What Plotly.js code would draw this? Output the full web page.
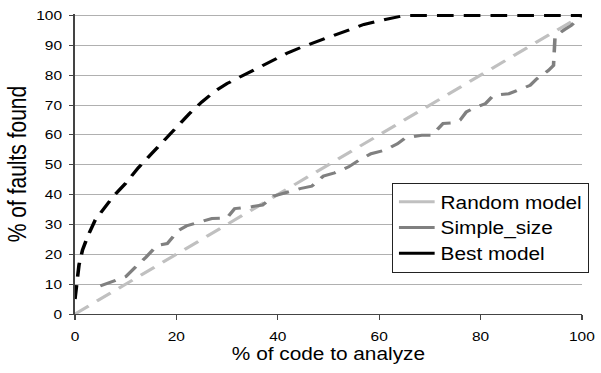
<!DOCTYPE html>
<html>
<head>
<meta charset="utf-8">
<script src="https://cdn.plot.ly/plotly-3.0.1.min.js"></script>
<style>
  html, body { margin: 0; padding: 0; background: #fff; overflow: hidden; }
  #chart { width: 505px; height: 373px; transform: scaleX(1.19); transform-origin: 0 0; }
</style>
</head>
<body>
<div id="chart"></div>
<script>
// Series names
const seriesNames = ["Random model", "Simple_size", "Best model"];

// Random model
const randomX = [0, 100];
const randomY = [0, 100];

// Simple_size
const simpleX = [5, 8, 10, 12, 14, 16.2, 18.2, 20.4, 22, 25, 27, 30, 31.5, 35, 37, 39.2, 41.5, 44.4, 46.7, 49, 51.2, 54, 56, 58.4, 61, 63.6, 65.2, 68.4, 70.4, 72.6, 74.6, 76, 77.2, 78.5, 81, 82.5, 85.6, 87.4, 89.8, 91.1, 93.4, 94.4, 94.7, 96.6, 97.9, 100];
const simpleY = [9.4, 11.4, 12.5, 15.8, 19, 23, 23.6, 28, 29.5, 31, 32, 32.2, 35.3, 36, 36.5, 39.5, 40.6, 42, 42.8, 46.2, 47.3, 49.3, 51.5, 53.7, 54.8, 57, 59, 59.9, 59.9, 63.8, 64, 65, 67.7, 68.8, 70.5, 73.2, 73.8, 74.9, 76.6, 78.8, 81.6, 83.3, 93, 95.3, 96.7, 100];

// Best model
const bestX = [0, 0.3, 0.8, 1.5, 2.5, 4, 5.5, 7.5, 10, 12.5, 15, 17.5, 20, 22.5, 25, 27.5, 30, 33, 36, 39, 42, 45, 48, 51, 54, 57, 60, 63, 65, 100];
const bestY = [5, 10, 16.5, 21.5, 26, 31.5, 35, 39.3, 43.8, 49, 53.5, 58, 62.5, 67, 71, 74.5, 77.2, 79.8, 82.5, 85, 87.5, 89.6, 91.5, 93.4, 95.2, 97, 98.2, 99.4, 100, 100];

// Axis ticks
const tickVals = [0, 10, 20, 30, 40, 50, 60, 70, 80, 90, 100];
const xTickVals = [0, 20, 40, 60, 80, 100];

const colors = ["#c0c0c0", "#808080", "#000000"];
const dashPat = "14px,8.5px";
const FONT = "Liberation Sans, Arial, sans-serif";

const seriesX = [randomX, simpleX, bestX];
const seriesY = [randomY, simpleY, bestY];

const traces = [];
for (let i = 0; i < 3; i++) {
  traces.push({
    x: seriesX[i], y: seriesY[i], type: "scatter", mode: "lines",
    name: seriesNames[i], showlegend: false, cliponaxis: false,
    line: { color: colors[i], width: 3, dash: dashPat },
    hoverinfo: "skip"
  });
}
// legend entries with solid samples
for (let i = 0; i < 3; i++) {
  traces.push({
    x: [null], y: [null], type: "scatter", mode: "lines",
    name: seriesNames[i], showlegend: true,
    line: { color: colors[i], width: 3 }
  });
}

const layout = {
  width: 505, height: 373,
  margin: { l: 63, r: 10, t: 13.5, b: 59 },
  paper_bgcolor: "#ffffff", plot_bgcolor: "#ffffff",
  font: { family: FONT, color: "#000" },
  showlegend: true,
  legend: {
    x: 0.625, y: 0.437, xanchor: "left", yanchor: "top",
    bgcolor: "#ffffff", bordercolor: "#222", borderwidth: 1,
    font: { family: FONT, size: 17.5, color: "#000" },
    tracegroupgap: 0
  },
  xaxis: {
    range: [0, 100], tickvals: xTickVals, ticks: "outside", ticklen: 5, tickwidth: 1, tickcolor: "#444",
    showline: true, linecolor: "#444", linewidth: 1.3, showgrid: false, zeroline: false,
    tickfont: { family: FONT, size: 13, color: "#000" }, ticklabelstandoff: 5,
    title: { text: "% of code to analyze", font: { family: FONT, size: 17.5, color: "#000" }, standoff: 4 }
  },
  yaxis: {
    range: [0, 100.5], tickvals: tickVals, ticks: "outside", ticklen: 4, tickwidth: 1, tickcolor: "#444",
    showline: true, linecolor: "#444", linewidth: 1.3, showgrid: true, gridcolor: "#b0b0b0", gridwidth: 1, zeroline: false,
    tickfont: { family: FONT, size: 13, color: "#000" }, ticklabelstandoff: 3,
    title: { text: "% of faults found", font: { family: FONT, size: 21, color: "#000" }, standoff: 2 }
  }
};

Plotly.newPlot("chart", traces, layout, { displayModeBar: false, staticPlot: true });
</script>
</body>
</html>
